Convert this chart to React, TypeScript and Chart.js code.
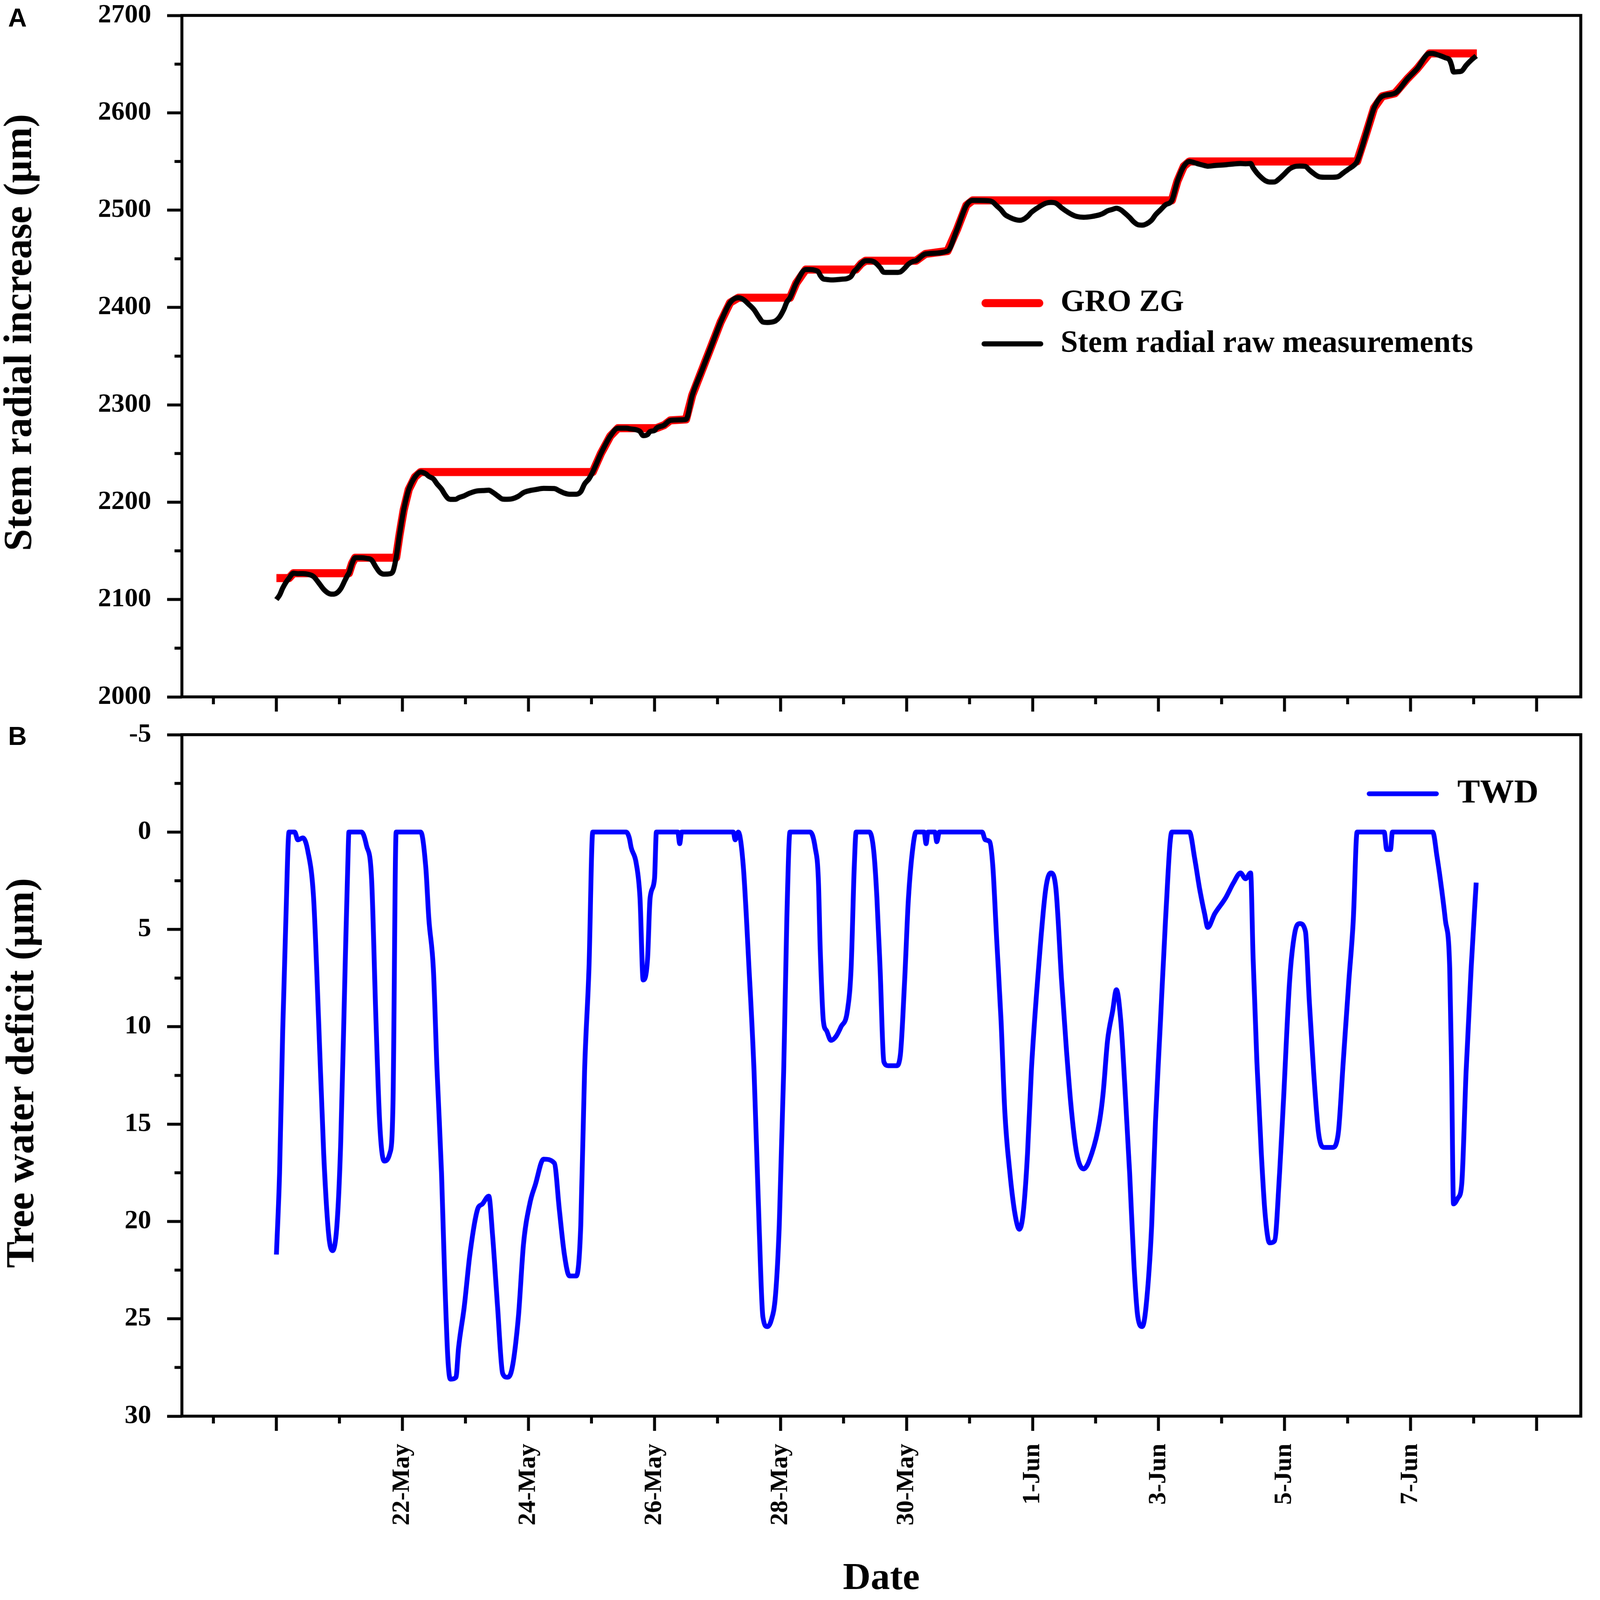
import { useEffect, useRef } from "react"
import { Chart, registerables } from "chart.js"

Chart.register(...registerables)

// Days are counted from 1 May, so 32 = 1-Jun, 38 = 7-Jun
const rawDay = [
    20.0, 20.05, 20.1, 20.15, 20.2, 20.27, 20.34, 20.42, 20.5, 20.59, 20.67, 20.75, 20.83, 20.89, 20.96, 21.02,
    21.09, 21.14, 21.15, 21.2, 21.25, 21.35, 21.43, 21.51, 21.58, 21.64, 21.71, 21.8, 21.85, 21.9, 21.95, 22.02,
    22.1, 22.2, 22.29, 22.37, 22.42, 22.49, 22.55, 22.62, 22.67, 22.72, 22.76, 22.85, 22.89, 22.98, 23.07, 23.19,
    23.27, 23.37, 23.43, 23.51, 23.59, 23.66, 23.72, 23.84, 23.92, 24.02, 24.11, 24.24, 24.41, 24.49, 24.57, 24.65,
    24.76, 24.83, 24.89, 24.96, 25.02, 25.15, 25.3, 25.42, 25.55, 25.63, 25.71, 25.77, 25.82, 25.89, 25.93, 26.0,
    26.03, 26.15, 26.25, 26.4, 26.5, 26.6, 26.75, 26.9, 27.05, 27.2, 27.33, 27.41, 27.5, 27.58, 27.66, 27.72,
    27.79, 27.85, 27.92, 27.98, 28.05, 28.1, 28.15, 28.25, 28.4, 28.47, 28.55, 28.6, 28.63, 28.68, 28.73, 28.8,
    28.88, 28.96, 29.06, 29.12, 29.17, 29.2, 29.28, 29.35, 29.41, 29.48, 29.53, 29.58, 29.64, 29.71, 29.84, 29.9,
    29.97, 30.03, 30.1, 30.15, 30.3, 30.65, 30.8, 30.95, 31.05, 31.32, 31.37, 31.43, 31.5, 31.56, 31.64, 31.72,
    31.79, 31.85, 31.92, 31.98, 32.08, 32.21, 32.29, 32.37, 32.46, 32.54, 32.62, 32.7, 32.81, 32.94, 33.06, 33.12,
    33.19, 33.27, 33.33, 33.4, 33.46, 33.54, 33.61, 33.67, 33.74, 33.8, 33.89, 33.95, 34.03, 34.11, 34.21, 34.3,
    34.4, 34.49, 34.57, 34.65, 34.73, 34.78, 34.89, 35.06, 35.19, 35.3, 35.38, 35.46, 35.5, 35.56, 35.63, 35.69,
    35.76, 35.84, 35.92, 35.98, 36.08, 36.16, 36.24, 36.33, 36.39, 36.46, 36.54, 36.63, 36.76, 36.85, 36.93, 37.02,
    37.09, 37.15, 37.3, 37.42, 37.55, 37.75, 37.95, 38.1, 38.3, 38.35, 38.42, 38.49, 38.55, 38.62, 38.65, 38.68,
    38.75, 38.81, 38.88, 38.96, 39.04,
]
const rawStem = [
    2100, 2104.5, 2111.8, 2117.5, 2122, 2127, 2126.6, 2126.7, 2126, 2123.6, 2117.3, 2110.5, 2106.3, 2105.5, 2106.8, 2111,
    2120, 2126.2, 2127, 2137, 2143, 2143, 2142.3, 2140.6, 2133.3, 2128, 2126.1, 2126.5, 2129.1, 2143, 2165, 2192,
    2213, 2226, 2231, 2229.2, 2226.5, 2224, 2218.7, 2213.5, 2208.2, 2204, 2202.9, 2203, 2204.5, 2206.6, 2209.3, 2211.6,
    2211.9, 2212.3, 2210.3, 2206.6, 2203.2, 2203, 2203.2, 2206.1, 2209.8, 2211.9, 2212.9, 2214.2, 2214, 2211.6, 2209.3, 2208.2,
    2208.2, 2210.8, 2218.7, 2224, 2231, 2250, 2268, 2276, 2276, 2275.2, 2274.4, 2272.6, 2268.4, 2269.5, 2272.6, 2273.6,
    2276, 2279, 2284, 2284.5, 2285, 2310, 2335, 2360, 2385, 2405, 2410, 2408.2, 2403, 2397.7, 2389.8, 2385.1,
    2384.6, 2384.9, 2386.2, 2389.8, 2397.7, 2405.5, 2410, 2425, 2439, 2439, 2438.2, 2436.6, 2433, 2429.3, 2428.8, 2428.3,
    2428.5, 2429, 2429.8, 2432, 2437.2, 2439, 2445, 2448, 2448, 2447, 2444.6, 2441, 2436.2, 2436, 2436, 2436.5,
    2440.4, 2444.6, 2447.2, 2448, 2455, 2458, 2480, 2505, 2510, 2509.5, 2508.2, 2504.5, 2500.3, 2495.6, 2492.5, 2490.4,
    2489.6, 2490.4, 2493.5, 2497.7, 2502.4, 2507.1, 2507.9, 2507.1, 2502.4, 2498.7, 2495.6, 2493.5, 2492.7, 2493.5, 2495.1, 2496.6,
    2499.3, 2500.8, 2501.9, 2500.3, 2497.2, 2492.5, 2487.7, 2485.1, 2484.6, 2485.6, 2489.8, 2495.1, 2500.3, 2505.5, 2510, 2530,
    2545, 2550, 2548.7, 2547.1, 2545.8, 2545.1, 2545.8, 2546.6, 2547.4, 2547.9, 2547.6, 2547.9, 2543.5, 2538.2, 2533.5, 2530.4,
    2528.9, 2529, 2532.5, 2536.1, 2542.4, 2544.8, 2545.3, 2544.9, 2541.4, 2537.7, 2534.5, 2533.8, 2533.8, 2534.5, 2538.2, 2542.4,
    2545.5, 2550, 2580, 2605, 2617, 2620, 2635, 2645, 2661, 2661, 2659.7, 2658.1, 2656.5, 2654, 2648.7, 2641.9,
    2642.2, 2642.9, 2648.7, 2654, 2658.4,
]

const groDay = [
    20.0, 20.2, 20.27, 21.15, 21.2, 21.25, 21.9, 21.95, 22.02, 22.1, 22.2, 22.29, 25.02, 25.15, 25.3, 25.42,
    26.03, 26.15, 26.25, 26.5, 26.6, 26.75, 26.9, 27.05, 27.2, 27.33, 28.15, 28.25, 28.4, 29.2, 29.28, 29.35,
    30.15, 30.3, 30.65, 30.8, 30.95, 31.05, 34.21, 34.3, 34.4, 34.49, 37.15, 37.3, 37.42, 37.55, 37.75, 37.95,
    38.1, 38.3, 39.05,
]
const groStem = [
    2122, 2122, 2127, 2127, 2137, 2143, 2143, 2165, 2192, 2213, 2226, 2231, 2231, 2250, 2268, 2276,
    2276, 2279, 2284, 2285, 2310, 2335, 2360, 2385, 2405, 2410, 2410, 2425, 2439, 2439, 2445, 2448,
    2448, 2455, 2458, 2480, 2505, 2510, 2510, 2530, 2545, 2550, 2550, 2580, 2605, 2617, 2620, 2635,
    2645, 2661, 2661,
]

const twdDay = [
    20.0, 20.05, 20.1, 20.15, 20.2, 20.29, 20.34, 20.42, 20.5, 20.59, 20.67, 20.75, 20.83, 20.89, 20.96, 21.02,
    21.09, 21.14, 21.15, 21.35, 21.43, 21.51, 21.58, 21.64, 21.71, 21.8, 21.85, 21.9, 22.29, 22.37, 22.42, 22.49,
    22.55, 22.62, 22.67, 22.72, 22.76, 22.85, 22.89, 22.98, 23.07, 23.19, 23.27, 23.37, 23.43, 23.51, 23.59, 23.66,
    23.72, 23.84, 23.92, 24.02, 24.11, 24.24, 24.41, 24.49, 24.57, 24.65, 24.76, 24.83, 24.89, 24.96, 25.02, 25.55,
    25.6, 25.63, 25.71, 25.77, 25.82, 25.89, 25.93, 26.0, 26.03, 26.37, 26.4, 26.43, 27.25, 27.28, 27.33, 27.41,
    27.5, 27.58, 27.66, 27.72, 27.79, 27.85, 27.92, 27.98, 28.05, 28.1, 28.15, 28.47, 28.55, 28.6, 28.63, 28.68,
    28.73, 28.8, 28.88, 28.96, 29.06, 29.12, 29.17, 29.2, 29.41, 29.48, 29.53, 29.58, 29.64, 29.71, 29.84, 29.9,
    29.97, 30.03, 30.1, 30.15, 30.28, 30.31, 30.34, 30.45, 30.48, 30.52, 31.2, 31.25, 31.32, 31.37, 31.43, 31.5,
    31.56, 31.64, 31.72, 31.79, 31.85, 31.92, 31.98, 32.08, 32.21, 32.29, 32.37, 32.46, 32.54, 32.62, 32.7, 32.81,
    32.94, 33.06, 33.12, 33.19, 33.27, 33.33, 33.4, 33.46, 33.54, 33.61, 33.67, 33.74, 33.8, 33.89, 33.95, 34.03,
    34.11, 34.21, 34.49, 34.57, 34.65, 34.73, 34.78, 34.89, 35.06, 35.19, 35.3, 35.38, 35.46, 35.5, 35.56, 35.63,
    35.69, 35.76, 35.84, 35.92, 35.98, 36.08, 36.16, 36.24, 36.33, 36.39, 36.46, 36.54, 36.63, 36.76, 36.85, 36.93,
    37.02, 37.09, 37.15, 37.58, 37.62, 37.68, 37.71, 38.35, 38.42, 38.49, 38.55, 38.62, 38.65, 38.68, 38.75, 38.81,
    38.88, 38.96, 39.04,
]
const twdValue = [
    21.7, 17.5, 10.2, 4.5, 0, 0, 0.4, 0.3, 1.0, 3.4, 9.7, 16.5, 20.7, 21.5, 20.2, 16.0,
    7.0, 0.8, 0, 0, 0.7, 2.4, 9.7, 15.0, 16.9, 16.5, 13.9, 0, 0, 1.8, 4.5, 7.0,
    12.3, 17.5, 22.8, 27.0, 28.1, 28.0, 26.5, 24.4, 21.7, 19.4, 19.1, 18.7, 20.7, 24.4, 27.8, 28.0,
    27.8, 24.9, 21.2, 19.1, 18.1, 16.8, 17.0, 19.4, 21.7, 22.8, 22.8, 20.2, 12.3, 7.0, 0, 0,
    0.3, 0.8, 1.6, 3.4, 7.6, 6.5, 3.4, 2.4, 0, 0, 0.6, 0, 0, 0.4, 0, 1.8,
    7.0, 12.3, 20.2, 24.9, 25.4, 25.1, 23.8, 20.2, 12.3, 4.5, 0, 0, 0.8, 2.4, 6.0, 9.7,
    10.2, 10.7, 10.5, 10.0, 9.2, 7.0, 1.8, 0, 0, 1.0, 3.4, 7.0, 11.8, 12.0, 12.0, 11.5,
    7.6, 3.4, 0.8, 0, 0, 0.6, 0, 0, 0.5, 0, 0, 0.4, 0.5, 1.8, 5.5, 9.7,
    14.4, 17.5, 19.6, 20.4, 19.6, 16.5, 12.3, 7.6, 2.9, 2.1, 2.9, 7.6, 11.3, 14.4, 16.5, 17.3,
    16.5, 14.9, 13.4, 10.7, 9.2, 8.1, 9.7, 12.8, 17.5, 22.3, 24.9, 25.4, 24.4, 20.2, 14.9, 9.7,
    4.5, 0, 0, 1.3, 2.9, 4.2, 4.9, 4.2, 3.4, 2.6, 2.1, 2.4, 2.1, 6.5, 11.8, 16.5,
    19.6, 21.1, 21.0, 17.5, 13.9, 7.6, 5.2, 4.7, 5.1, 8.6, 12.3, 15.5, 16.2, 16.2, 15.5, 11.8,
    7.6, 4.5, 0, 0, 0.9, 0.9, 0, 0, 1.3, 2.9, 4.5, 7.0, 12.3, 19.1, 18.8, 18.1,
    12.3, 7.0, 2.6,
]

// Axis ticks and labels
const dayMajor = [20, 22, 24, 26, 28, 30, 32, 34, 36, 38, 40]
const dayMinor = [19, 21, 23, 25, 27, 29, 31, 33, 35, 37, 39]
const dateDays = [22, 24, 26, 28, 30, 32, 34, 36, 38]
const dateLabels = ["22-May", "24-May", "26-May", "28-May", "30-May", "1-Jun", "3-Jun", "5-Jun", "7-Jun"]
const stemMajor = [2000, 2100, 2200, 2300, 2400, 2500, 2600, 2700]
const stemMinor = [2050, 2150, 2250, 2350, 2450, 2550, 2650]
const twdMajor = [-5, 0, 5, 10, 15, 20, 25, 30]
const twdMinor = [-2.5, 2.5, 7.5, 12.5, 17.5, 22.5, 27.5]

const W = 4328
const H = 4360
const TOP_H = 1940
const BOTTOM_H = H - TOP_H
const SERIF = "'Liberation Serif', 'Times New Roman', serif"

const pts = (xs: number[], ys: number[]) => xs.map((x, i) => ({ x, y: ys[i] }))

// Box around the plot area plus the short (minor) ticks
function frameTicks(xMinor: number[], yMinor: number[]) {
    return {
        id: "frameTicks",
        afterDraw(chart: any) {
            const { ctx, chartArea: a, scales } = chart
            ctx.save()
            ctx.strokeStyle = "#000"
            ctx.lineWidth = 8
            ctx.beginPath()
            xMinor.forEach((v) => {
                const px = scales.x.getPixelForValue(v)
                ctx.moveTo(px, a.bottom)
                ctx.lineTo(px, a.bottom + 20)
            })
            yMinor.forEach((v) => {
                const py = scales.y.getPixelForValue(v)
                ctx.moveTo(a.left, py)
                ctx.lineTo(a.left - 20, py)
            })
            ctx.stroke()
            ctx.strokeRect(a.left, a.top, a.right - a.left, a.bottom - a.top)
            ctx.restore()
        },
    }
}

// Vertical axis title, placed by its centre
function sideTitle(text: string, cx: number, cy: number, size: number) {
    return {
        id: "sideTitle",
        afterDraw(chart: any) {
            const { ctx } = chart
            ctx.save()
            ctx.translate(cx, cy)
            ctx.rotate(-Math.PI / 2)
            ctx.fillStyle = "#000"
            ctx.font = `bold ${size}px ${SERIF}`
            ctx.textAlign = "center"
            ctx.textBaseline = "middle"
            ctx.fillText(text, 0, 0)
            ctx.restore()
        },
    }
}

// Legend drawn inside the plot area
function insideLegend(x: number, y: number, gap: number, length: number, textGap: number, fontSize: number) {
    return {
        id: "insideLegend",
        afterDatasetsDraw(chart: any) {
            const { ctx } = chart
            ctx.save()
            chart.data.datasets.forEach((ds: any, i: number) => {
                const ly = y + i * gap
                const w = ds.borderWidth
                ctx.strokeStyle = ds.borderColor
                ctx.lineWidth = w
                ctx.lineCap = "round"
                ctx.beginPath()
                ctx.moveTo(x + w / 2, ly)
                ctx.lineTo(x + length - w / 2, ly)
                ctx.stroke()
                ctx.fillStyle = "#000"
                ctx.font = `bold ${fontSize}px ${SERIF}`
                ctx.textAlign = "left"
                ctx.textBaseline = "middle"
                ctx.fillText(ds.label, x + length + textGap, ly)
            })
            ctx.restore()
        },
    }
}

function dateAxis(showLabels: boolean, boxHeight: number) {
    return {
        type: "linear" as const,
        min: 18.5,
        max: 40.7,
        afterBuildTicks: (s: any) => {
            s.ticks = dayMajor.map((v) => ({ value: v }))
        },
        afterFit: (s: any) => {
            s.height = boxHeight
            s.paddingLeft = 0
            s.paddingRight = 0
        },
        grid: { drawOnChartArea: false, drawTicks: true, tickLength: 40, tickWidth: 8, tickColor: "#000" },
        border: { display: false },
        ticks: {
            display: showLabels,
            autoSkip: false,
            minRotation: 90,
            maxRotation: 90,
            padding: 35,
            color: "#000",
            font: { family: SERIF, size: 68, weight: "bold" as const, lineHeight: 1 },
            callback: (v: any) => {
                const i = dateDays.indexOf(Number(v))
                return i >= 0 ? dateLabels[i] : ""
            },
        },
        title: {
            display: showLabels,
            text: "Date",
            color: "#000",
            padding: 0,
            font: { family: SERIF, size: 104, weight: "bold" as const, lineHeight: 1.1 },
        },
    }
}

function valueAxis(min: number, max: number, major: number[], reverse: boolean) {
    return {
        type: "linear" as const,
        min,
        max,
        reverse,
        afterBuildTicks: (s: any) => {
            s.ticks = major.map((v) => ({ value: v }))
        },
        afterFit: (s: any) => {
            s.width = 492
            s.paddingTop = 0
            s.paddingBottom = 0
        },
        grid: { drawOnChartArea: false, drawTicks: true, tickLength: 40, tickWidth: 8, tickColor: "#000" },
        border: { display: false },
        ticks: {
            autoSkip: false,
            padding: 43,
            color: "#000",
            font: { family: SERIF, size: 72, weight: "bold" as const, lineHeight: 1 },
            callback: (v: any) => String(v),
        },
        title: { display: false },
    }
}

const baseOptions = {
    responsive: false,
    maintainAspectRatio: false,
    animation: false as const,
    devicePixelRatio: 1,
    events: [],
    plugins: { legend: { display: false }, tooltip: { enabled: false } },
}

function buildStem(): any {
    return {
        type: "line",
        data: {
            datasets: [
                {
                    label: "GRO ZG",
                    data: pts(groDay, groStem),
                    borderColor: "#ff0000",
                    borderWidth: 22,
                    pointRadius: 0,
                    borderJoinStyle: "round",
                    order: 1,
                },
                {
                    label: "Stem radial raw measurements",
                    data: pts(rawDay, rawStem),
                    borderColor: "#000000",
                    borderWidth: 14,
                    pointRadius: 0,
                    borderJoinStyle: "round",
                    cubicInterpolationMode: "monotone",
                    order: 0,
                },
            ],
        },
        options: {
            ...baseOptions,
            layout: { padding: { top: 42, right: 52, bottom: 0, left: 0 } },
            scales: {
                x: dateAxis(false, TOP_H - 1899),
                y: valueAxis(2000, 2700, stemMajor, false),
            },
        },
        plugins: [
            frameTicks(dayMinor, stemMinor),
            sideTitle("Stem radial increase (µm)", 56, 906, 108),
            insideLegend(2655, 826, 111, 167, 47, 84),
        ],
    }
}

function buildTwd(): any {
    return {
        type: "line",
        data: {
            datasets: [
                {
                    label: "TWD",
                    data: pts(twdDay, twdValue),
                    borderColor: "#0000ff",
                    borderWidth: 13,
                    pointRadius: 0,
                    borderJoinStyle: "round",
                    cubicInterpolationMode: "monotone",
                },
            ],
        },
        options: {
            ...baseOptions,
            layout: { padding: { top: 62, right: 52, bottom: 0, left: 0 } },
            scales: {
                x: dateAxis(true, BOTTOM_H - 1919),
                y: valueAxis(-5, 30, twdMajor, true),
            },
        },
        plugins: [
            frameTicks(dayMinor, twdMinor),
            sideTitle("Tree water deficit (µm)", 62, 984, 108),
            insideLegend(3697, 223, 0, 195, 50, 92),
        ],
    }
}

function ChartCanvas({ top, height, build }: { top: number; height: number; build: () => any }) {
    const ref = useRef<HTMLCanvasElement>(null)

    useEffect(() => {
        if (!ref.current) return
        const chart = new Chart(ref.current, build())
        return () => chart.destroy()
    }, [build])

    return (
        <canvas
            ref={ref}
            width={W}
            height={height}
            style={{ position: "absolute", left: 0, top, width: W, height }}
        />
    )
}

const panelLetter = {
    position: "absolute" as const,
    left: 22,
    fontFamily: "'Liberation Sans', Arial, sans-serif",
    fontWeight: "bold" as const,
    fontSize: 70,
    lineHeight: 1,
    color: "#000",
}

export default function App() {
    // shrink to the viewport if it is smaller than the figure
    const vw = window.innerWidth || W
    const vh = window.innerHeight || H
    const sx = Math.min(1, vw / W)
    const sy = Math.min(1, vh / H)

    return (
        <div style={{ position: "fixed", left: 0, top: 0, width: vw, height: vh, overflow: "hidden", background: "#fff" }}>
            <div
                style={{
                    position: "absolute",
                    left: 0,
                    top: 0,
                    width: W,
                    height: H,
                    background: "#fff",
                    transform: `scale(${sx}, ${sy})`,
                    transformOrigin: "0 0",
                }}
            >
                <ChartCanvas top={0} height={TOP_H} build={buildStem} />
                <ChartCanvas top={TOP_H} height={BOTTOM_H} build={buildTwd} />
                <div style={{ ...panelLetter, top: 13 }}>A</div>
                <div style={{ ...panelLetter, top: 1971 }}>B</div>
            </div>
        </div>
    )
}
